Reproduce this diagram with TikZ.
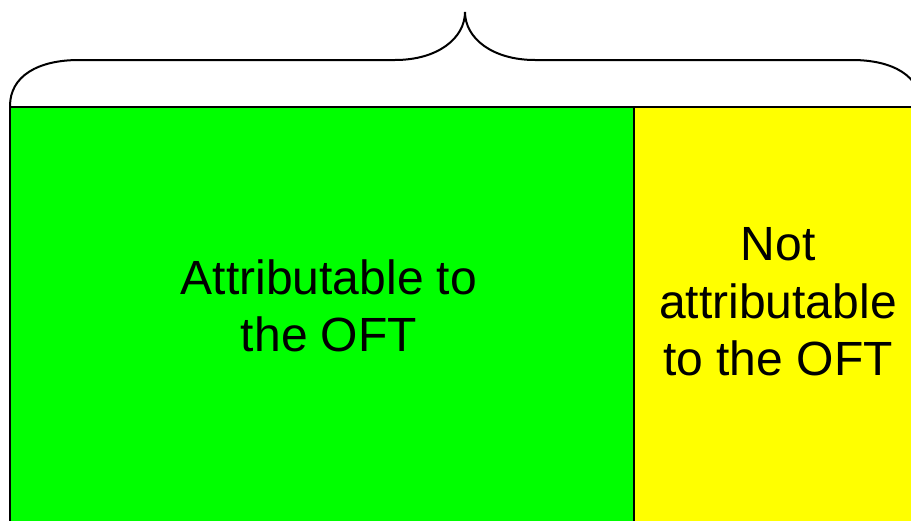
\documentclass[tikz,border=0pt]{standalone}
\usepackage{fontspec}
\setmainfont{Liberation Sans}
\definecolor{brightgreen}{RGB}{0,255,0}
\definecolor{brightyellow}{RGB}{255,255,0}
\begin{document}
\begin{tikzpicture}[x=1pt,y=-1pt,
  region/.style={draw=black,line width=2pt},
  label/.style={align=center,font=\fontsize{48}{57.5}\selectfont,inner sep=0pt},
  brace/.style={draw=black,line width=2pt}]
\useasboundingbox (0,0) rectangle (911,520);
\path[region,fill=brightgreen] (10,107) rectangle (634,540);
\path[region,fill=brightyellow] (634,107) rectangle (930,540);
\node[label] (att) at (329,306) {Attributable to\\the OFT};
\node[label] (natt) at (778,302) {Not\\attributable\\to the OFT};
\path[brace] (10,106) .. controls (10,76) and (38,60) .. (79,60) -- (395,60)
  .. controls (438,60) and (465,38) .. (465,12)
  .. controls (465,38) and (492,60) .. (535,60) -- (852,60)
  .. controls (893,60) and (921,76) .. (921,106);
\end{tikzpicture}
\end{document}
